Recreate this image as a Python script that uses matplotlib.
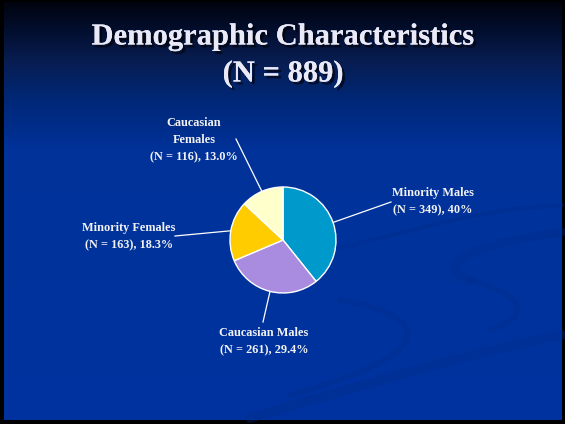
import numpy as np
import matplotlib.pyplot as plt
import matplotlib.patheffects as pe
from matplotlib.path import Path
from matplotlib.patches import PathPatch

# data
groups = ['Minority Males', 'Caucasian Males', 'Minority Females', 'Caucasian Females']
counts = [349, 261, 163, 116]
pct_labels = ['40%', '29.4%', '18.3%', '13.0%']
label_text = [
    'Minority Males\n(N = 349), 40%',
    'Caucasian Males\n(N = 261), 29.4%',
    'Minority Females\n(N = 163), 18.3%',
    'Caucasian\nFemales\n(N = 116), 13.0%',
]
colors = ['#0099CC', '#A98BE0', '#FFCC00', '#FFFFCC']

W, H = 565, 424
fig = plt.figure(figsize=(W / 100, H / 100), dpi=100, facecolor='black')
ax = fig.add_axes([0, 0, 1, 1])
ax.set_facecolor('black')

def Y(y_img):
    '''image row -> axes y (y goes up)'''
    return H - y_img

# slide background: dark top fading into blue
stops_y = [0, 30, 60, 100, 150, H]
stops_c = np.array([[1, 4, 15], [3, 15, 48], [8, 29, 82], [0, 40, 120],
                    [0, 50, 154], [0, 51, 160]]) / 255.
rows = np.arange(H)
grad = np.stack([np.interp(rows, stops_y, stops_c[:, k]) for k in range(3)], axis=-1)
ax.imshow(grad[:, None, :], extent=(4, 562, Y(420), Y(2)), aspect='auto',
          origin='upper', zorder=0)

# faint decorative swooshes in the lower right
swoosh = '#002A88'
def band(pts, lw, a=0.35):
    codes = [Path.MOVETO] + [Path.CURVE4] * (len(pts) - 1)
    p = Path([(x, Y(y)) for x, y in pts], codes)
    ax.add_patch(PathPatch(p, fill=False, edgecolor=swoosh, lw=lw, alpha=a,
                           capstyle='round', zorder=1))

band([(250, 418), (380, 380), (480, 350), (562, 335)], 7)
band([(290, 395), (420, 360), (450, 320), (340, 300)], 4)
band([(562, 232), (470, 245), (430, 265), (470, 280)], 6)
band([(330, 250), (420, 230), (470, 210), (562, 205)], 3)
band([(470, 280), (540, 300), (520, 320), (490, 330)], 4)

# title with a soft drop shadow
shadow = [pe.withSimplePatchShadow(offset=(2, -2), shadow_rgbFace='black', alpha=0.6),
          pe.Normal()]
for txt, yy in [('Demographic Characteristics', 37), ('(N = 889)', 74)]:
    ax.text(283, Y(yy), txt, ha='center', va='center',
            fontsize=22, fontweight='bold', family='Liberation Serif', color='#E9E9F7',
            path_effects=shadow, zorder=5)

# pie, clockwise from 12 o'clock
cx, cy, r = 283, Y(240), 53
wedges, _ = ax.pie(counts, colors=colors, startangle=90, counterclock=False,
                   center=(cx, cy), radius=r,
                   wedgeprops=dict(edgecolor='white', linewidth=1))
for w in wedges:
    w.set_zorder(3)

# labels and leader lines
text_pos = [(433, 202), (264, 342), (129, 237), (194, 140)]
leader_end = [(391, 202), (263, 322), (175, 236), (236, 139)]
for w, txt, (tx, ty), (lx, ly) in zip(wedges, label_text, text_pos, leader_end):
    mid = np.deg2rad((w.theta1 + w.theta2) / 2)
    ex, ey = cx + r * np.cos(mid), cy + r * np.sin(mid)
    ax.plot([ex, lx], [ey, Y(ly)], color='white', lw=0.9, zorder=2)
    ax.text(tx, Y(ty), txt, ha='center', va='center', fontsize=8.8,
            fontweight='bold', family='Liberation Serif', color='#F2F2F2',
            linespacing=1.6, zorder=5)

ax.set_xlim(0, W)
ax.set_ylim(0, H)
ax.set_aspect('equal')
ax.axis('off')

fig.savefig('out.png', dpi=100, facecolor='black')
